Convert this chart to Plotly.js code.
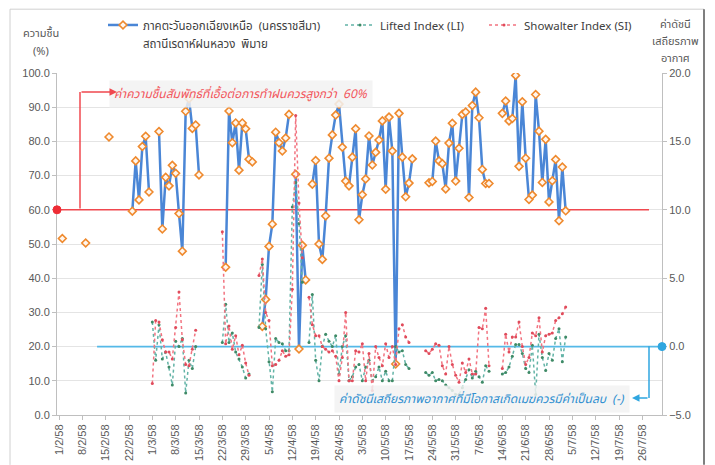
<!DOCTYPE html>
<html>
<head>
<meta charset="utf-8">
<script src="https://cdn.plot.ly/plotly-3.0.1.min.js"></script>
<style>
  html, body { margin: 0; padding: 0; background: #ffffff; }
  #chart { width: 715px; height: 465px; }
</style>
</head>
<body>
<div id="chart"></div>
<script>
// ---- Data (one value per day, starting 1 Feb 2015 = 1/2/58; null = no data) ----
const startDate = '2015-02-01';

const humidity = [
  null, 51.6, null, null, null, null, null, null, 50.3, null,
  null, null, null, null, null, 81.3, null, null, null, null,
  null, null, 59.6, 74.3, 62.9, 78.5, 81.5, 65.2, null, null,
  82.9, 54.4, 69.5, 67.0, 73.0, 70.7, 58.9, 47.9, 88.8, 92.5,
  83.8, 84.8, 70.2, null, null, null, null, null, null, null,
  43.2, 88.9, 79.6, 85.4, 71.6, 85.4, 83.7, 74.8, 74.0, null,
  null, 25.9, 33.8, 49.3, 55.8, 82.7, 79.6, 77.2, 81.0, 87.9,
  null, 70.4, 19.3, 49.6, 39.5, null, 67.5, 74.4, 50.0, 45.5,
  58.2, 75.1, 81.9, 87.7, 90.9, 78.3, 68.4, 67.0, 75.4, 83.7,
  57.1, 64.4, 69.0, 81.6, 73.1, 76.8, 80.4, 86.0, 66.0, 87.1,
  77.2, 14.9, 88.2, 75.4, 63.8, 67.8, 74.9, null, null, null,
  null, 67.9, 68.3, 80.1, 74.3, 73.5, 66.1, 79.5, 85.3, 68.4,
  78.0, 87.9, 88.6, 63.6, 90.5, 94.4, 86.9, 71.8, 67.7, 67.7,
  null, null, null, 88.2, 91.8, 86.0, 86.7, 99.3, 72.7, 91.6,
  75.1, 63.0, 64.3, 93.7, 83.0, 68.0, 80.6, 62.3, 68.5, 74.7,
  56.8, 72.5, 59.7
];

const liftedIndex = [
  null, null, null, null, null, null, null, null, null, null,
  null, null, null, null, null, null, null, null, null, null,
  null, null, null, null, null, null, null, null, 1.8, -1.0,
  1.6, -0.9, -0.4, -1.5, -2.8, 0.4, 0.0, 0.6, -3.4, -1.0,
  -1.6, 0.0, null, null, null, null, null, null, null, 0.3,
  3.1, 0.3, 1.0, -0.4, -0.9, -1.5, -2.3, -2.0, null, null,
  1.4, 6.0, 1.3, -1.1, -3.3, 0.6, 0.3, 0.2, -0.3, -0.3,
  10.2, 12.0, 9.0, 4.7, null, 0.3, 3.8, -1.0, -2.5, 0.0,
  0.9, 0.4, 0.0, 0.8, -2.0, 0.0, 0.8, -2.5, -2.2, -1.5,
  -1.3, -2.5, -1.5, -1.0, -2.5, -2.2, -1.5, -2.5, -1.8, -2.5,
  -2.5, 0.0, -0.4, -0.3, -1.3, -1.6, null, null, null, null,
  -1.9, -2.1, -1.9, -2.5, -2.4, -2.5, -2.8, -3.0, -3.2, -3.5,
  -3.5, -3.0, -2.4, -1.7, -2.3, -1.8, -2.2, -2.6, -1.4, -1.8,
  null, null, null, -2.0, -1.9, -1.5, -0.7, 0.15, 0.15, -0.5,
  -1.6, -1.9, 0.1, -3.5, 0.9, -0.8, -1.75, -0.5, -1.0, 0.6,
  1.3, -1.1, 0.7
];

const showalterIndex = [
  null, null, null, null, null, null, null, null, null, null,
  null, null, null, null, null, null, null, null, null, null,
  null, null, null, null, null, null, null, null, -2.7, 1.9,
  1.8, 0.5, -0.4, -0.4, -0.9, 1.4, 4.0, 0.5, -1.3, -1.4,
  -0.2, 1.2, null, null, null, null, null, null, null, 8.4,
  0.2, 1.5, -0.2, 0.8, -0.6, 0.1, -1.2, -2.1, null, null,
  5.2, 6.4, 2.5, 1.9, -1.4, -1.3, -1.0, -0.3, -0.7, -0.6,
  4.2, 16.9, 10.5, 6.5, null, 3.6, 1.6, 0.8, 0.8, 0.0,
  -0.2, -0.4, -0.3, -0.7, -2.5, -0.8, 2.5, -2.5, -2.5, -0.3,
  -0.4, 0.2, -2.5, -0.5, -3.2, 0.0, -0.8, -1.4, 0.2, -0.8,
  0.0, -1.3, 1.3, 1.6, 0.7, 0.3, null, null, null, null,
  -0.3, -0.5, -0.2, 0.2, 0.1, -1.4, -2.0, 0.0, -1.3, -2.1,
  -2.6, -1.2, -1.9, -0.9, -2.0, -2.0, 1.4, 1.3, 2.8, -1.4,
  null, null, null, -1.6, 0.9, -0.4, 0.7, 0.7, 1.8, 0.0,
  -1.3, -0.8, 1.0, 0.8, 2.1, -0.4, 0.8, 0.9, 1.0, 1.9,
  2.1, 2.4, 2.9
];

const tickDates = ['2015-02-01','2015-02-08','2015-02-15','2015-02-22','2015-03-01','2015-03-08',
  '2015-03-15','2015-03-22','2015-03-29','2015-04-05','2015-04-12','2015-04-19','2015-04-26',
  '2015-05-03','2015-05-10','2015-05-17','2015-05-24','2015-05-31','2015-06-07','2015-06-14',
  '2015-06-21','2015-06-28','2015-07-05','2015-07-12','2015-07-19','2015-07-26'];
const tickLabels = ['1/2/58','8/2/58','15/2/58','22/2/58','1/3/58','8/3/58','15/3/58','22/3/58',
  '29/3/58','5/4/58','12/4/58','19/4/58','26/4/58','3/5/58','10/5/58','17/5/58','24/5/58',
  '31/5/58','7/6/58','14/6/58','21/6/58','28/6/58','5/7/58','12/7/58','19/7/58','26/7/58'];

const seriesNames = ['ภาคตะวันออกเฉียงเหนือ  (นครราชสีมา)', 'Lifted Index (LI)', 'Showalter Index (SI)'];
const seriesSubtitle = 'สถานีเรดาห์ฝนหลวง  พิมาย';
const leftTitleLines = ['ความชื้น', '(%)'];
const rightTitleLines = ['ค่าดัชนี', 'เสถียรภาพ', 'อากาศ'];
const humidityNote = 'ค่าความชื้นสัมพัทธ์ที่เอื้อต่อการทำฝนควรสูงกว่า  60%';
const stabilityNote = 'ค่าดัชนีเสถียรภาพอากาศที่มีโอกาสเกิดเมฆควรมีค่าเป็นลบ  (-)';
const humidityThreshold = 60;   // %
const stabilityThreshold = 0;   // index
const leftRange = [0, 100];
const rightRange = [-5, 20];
const xRange = ['2015-01-31 09:36', '2015-07-31 21:36'];

// ---- build ----
function dayDate(i) {
  const d = new Date(startDate + 'T00:00:00Z');
  d.setUTCDate(d.getUTCDate() + i);
  return d.toISOString().slice(0, 10);
}
const dates = humidity.map((_, i) => dayDate(i));
// express a right-axis value on the left axis scale (same plot area)
const rightToLeft = v => leftRange[0] + (v - rightRange[0]) / (rightRange[1] - rightRange[0]) * (leftRange[1] - leftRange[0]);

const THAI = 'Tahoma, "Noto Sans Thai", "Noto Sans", "DejaVu Sans", sans-serif';
const TICK = '"Liberation Sans", Arial, sans-serif';

const traces = [
  {
    x: dates, y: liftedIndex, yaxis: 'y2', name: seriesNames[1], legend: 'legend2',
    type: 'scatter', mode: 'lines+markers', connectgaps: false,
    line: { color: '#62b3a6', width: 1.5, dash: 'dot' },
    marker: { color: '#3f8a66', size: 3, symbol: 'circle' }
  },
  {
    x: dates, y: showalterIndex, yaxis: 'y2', name: seriesNames[2], legend: 'legend3',
    type: 'scatter', mode: 'lines+markers', connectgaps: false,
    line: { color: '#f27380', width: 1.5, dash: 'dot' },
    marker: { color: '#e04b5b', size: 3, symbol: 'circle' }
  },
  {
    x: dates, y: humidity, yaxis: 'y', name: seriesNames[0], legend: 'legend',
    type: 'scatter', mode: 'lines+markers', connectgaps: false,
    line: { color: '#4a86d6', width: 2.5 },
    marker: { symbol: 'diamond', size: 6, color: '#fff6ee', line: { color: '#ef8a2e', width: 1.6 } }
  }
];

const L = 57, R = 53, T = 72, B = 50;
const PW = 715 - L - R, PH = 465 - T - B;
const px = X => (X - L) / PW;
const py = Y => (465 - B - Y) / PH;

function legendAt(X) {
  return {
    orientation: 'h', x: px(X), xanchor: 'left', y: py(11), yanchor: 'top',
    valign: 'top', font: { family: THAI, size: 11.5, color: '#404040' },
    bgcolor: 'rgba(0,0,0,0)', itemwidth: 30
  };
}

const annotations = [];
leftTitleLines.forEach((t, i) => annotations.push({
  xref: 'paper', yref: 'paper', x: px(41), y: py(32 + i * 18), xanchor: 'center', yanchor: 'middle',
  showarrow: false, text: t, font: { family: THAI, size: 11, color: '#595959' }
}));
rightTitleLines.forEach((t, i) => annotations.push({
  xref: 'paper', yref: 'paper', x: px(675), y: py(23 + i * 17), xanchor: 'center', yanchor: 'middle',
  showarrow: false, text: t, font: { family: THAI, size: 11, color: '#595959' }
}));
annotations.push(
  // second line of the humidity legend entry
  { xref: 'paper', yref: 'paper', x: px(141), y: py(43), xanchor: 'left', yanchor: 'middle', showarrow: false,
    text: seriesSubtitle, font: { family: THAI, size: 11.5, color: '#404040' } },
  { xref: 'paper', yref: 'paper', x: px(241), y: py(93), xanchor: 'center', yanchor: 'middle', showarrow: false,
    text: '<i>' + humidityNote + '</i>',
    font: { family: THAI, size: 12, color: '#f2545b' }, bgcolor: 'rgba(242,242,242,0.85)', borderpad: 4 },
  { xref: 'paper', yref: 'paper', x: px(117), y: py(91), ax: -37, ay: 0, showarrow: true, text: '',
    arrowhead: 2, arrowsize: 1, arrowwidth: 1.5, arrowcolor: '#f0484f' },
  { xref: 'paper', yref: 'paper', x: px(482), y: py(399), xanchor: 'center', yanchor: 'middle', showarrow: false,
    text: '<i>' + stabilityNote + '</i>',
    font: { family: THAI, size: 12, color: '#2f8fd0' }, bgcolor: 'rgba(242,242,242,0.85)', borderpad: 4 },
  { xref: 'paper', yref: 'paper', x: px(632), y: py(398), ax: 17, ay: 0, showarrow: true, text: '',
    arrowhead: 2, arrowsize: 1, arrowwidth: 1.5, arrowcolor: '#2fa6e0' }
);

const layout = {
  width: 715, height: 465,
  margin: { l: L, r: R, t: T, b: B },
  paper_bgcolor: '#ffffff', plot_bgcolor: '#ffffff',
  showlegend: true,
  legend: legendAt(103),
  legend2: legendAt(340),
  legend3: legendAt(484),
  xaxis: {
    type: 'date', range: xRange,
    tickmode: 'array', tickvals: tickDates, ticktext: tickLabels,
    tickangle: -90, tickfont: { family: TICK, size: 11, color: '#595959' },
    ticks: 'outside', ticklen: 4, tickcolor: '#bfbfbf',
    showline: true, linecolor: '#bfbfbf', linewidth: 1,
    showgrid: false, zeroline: false
  },
  yaxis: {
    range: leftRange, dtick: 10, tick0: 0, tickformat: '.1f',
    tickfont: { family: TICK, size: 11, color: '#595959' },
    ticks: 'outside', ticklen: 4, tickcolor: '#bfbfbf',
    showline: true, linecolor: '#bfbfbf', linewidth: 1,
    showgrid: true, gridcolor: '#e4e4e4', gridwidth: 1, zeroline: false
  },
  yaxis2: {
    range: rightRange, dtick: 5, tick0: -5, tickformat: '.1f',
    overlaying: 'y', side: 'right',
    tickfont: { family: TICK, size: 11, color: '#595959' },
    ticks: 'outside', ticklen: 4, tickcolor: '#bfbfbf',
    showline: true, linecolor: '#bfbfbf', linewidth: 1,
    showgrid: false, zeroline: false
  },
  shapes: [
    // chart frame
    { type: 'line', xref: 'paper', yref: 'paper', x0: px(10), x1: px(704), y0: py(8), y1: py(8), line: { color: '#d0d0d0', width: 1 } },
    { type: 'line', xref: 'paper', yref: 'paper', x0: px(10), x1: px(10), y0: py(8), y1: py(465), line: { color: '#d0d0d0', width: 1 } },
    { type: 'line', xref: 'paper', yref: 'paper', x0: px(704), x1: px(704), y0: py(8), y1: py(465), line: { color: '#555555', width: 1.5 } },
    // humidity threshold line
    { type: 'line', layer: 'between', xref: 'x', yref: 'y', x0: xRange[0], x1: '2015-07-28', y0: humidityThreshold, y1: humidityThreshold,
      line: { color: '#f0484f', width: 1.6 } },
    { type: 'circle', xref: 'paper', yref: 'y', xsizemode: 'pixel', ysizemode: 'pixel',
      xanchor: 0, yanchor: humidityThreshold, x0: -4, x1: 4, y0: -4, y1: 4,
      fillcolor: '#ee2c35', line: { color: '#ee2c35', width: 1 } },
    // stability threshold line (right-axis value 0, drawn on the shared plot area)
    { type: 'line', layer: 'between', xref: 'x', yref: 'y', x0: '2015-02-12 10:00', x1: xRange[1],
      y0: rightToLeft(stabilityThreshold), y1: rightToLeft(stabilityThreshold),
      line: { color: '#55b9e8', width: 1.6 } },
    { type: 'circle', xref: 'paper', yref: 'y', xsizemode: 'pixel', ysizemode: 'pixel',
      xanchor: 1, yanchor: rightToLeft(stabilityThreshold), x0: -4, x1: 4, y0: -4, y1: 4,
      fillcolor: '#2fa6e0', line: { color: '#2fa6e0', width: 1 } },
    // red connector (vertical part)
    { type: 'line', xref: 'paper', yref: 'paper', x0: px(80), x1: px(80), y0: py(208), y1: py(91),
      line: { color: '#f0484f', width: 1.5 } },
    // blue connector (vertical part)
    { type: 'line', xref: 'paper', yref: 'paper', x0: px(649), x1: px(649), y0: py(346), y1: py(398),
      line: { color: '#2fa6e0', width: 1.5 } }
  ],
  annotations: annotations
};

Plotly.newPlot('chart', traces, layout, { displayModeBar: false, staticPlot: true });
</script>
</body>
</html>
